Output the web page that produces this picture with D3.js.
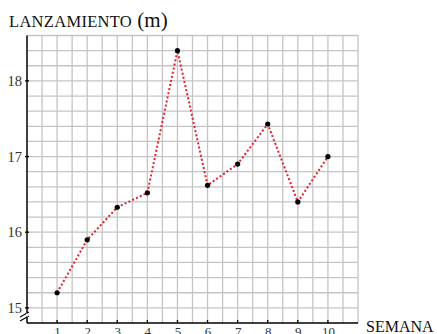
<!DOCTYPE html>
<html>
<head>
<meta charset="utf-8">
<script src="https://cdn.jsdelivr.net/npm/d3@7"></script>
<style>
  body { margin: 0; background: #fff; }
  svg { display: block; }
</style>
</head>
<body>
<div id="chart"></div>
<script>
var weeks = [1, 2, 3, 4, 5, 6, 7, 8, 9, 10];
var throws = [15.2, 15.9, 16.33, 16.52, 18.4, 16.62, 16.9, 17.43, 16.4, 17.0];
var yTicks = [15, 16, 17, 18];

var width = 437, height = 334;
var fontFamily = '"Liberation Serif", "DejaVu Serif", serif';

var svg = d3.select("#chart").append("svg")
    .attr("width", width)
    .attr("height", height);

var x = d3.scaleLinear().domain([0, 11]).range([27, 358]);
var y = d3.scaleLinear().domain([14.8, 18.6]).range([323, 35.5]);

// grid: half week by 0.2 m
var g = svg.append("g");
g.selectAll(".vgrid").data(d3.range(1, 23).map(function(i) { return i * 0.5; }))
  .enter().append("line").attr("class", "vgrid")
  .attr("x1", function(d) { return x(d); })
  .attr("x2", function(d) { return x(d); })
  .attr("y1", y(18.6))
  .attr("y2", y(14.8))
  .attr("stroke", "#c4c4c4")
  .attr("stroke-width", 1.3);
g.selectAll(".hgrid").data(d3.range(1, 20).map(function(i) { return 14.8 + i * 0.2; }))
  .enter().append("line").attr("class", "hgrid")
  .attr("x1", x(0))
  .attr("x2", x(11))
  .attr("y1", function(d) { return y(d); })
  .attr("y2", function(d) { return y(d); })
  .attr("stroke", "#c4c4c4")
  .attr("stroke-width", 1.3);

// axes
var xAxis = d3.axisBottom(x).tickValues(weeks).tickSize(0).tickPadding(4).tickFormat(d3.format("d"));
var yAxis = d3.axisLeft(y).tickValues(yTicks).tickSize(0).tickPadding(4).tickFormat(d3.format("d"));

var gx = svg.append("g").attr("transform", "translate(0," + y(14.8) + ")").call(xAxis);
gx.select(".domain").remove();
gx.selectAll("text").attr("font-family", fontFamily).attr("font-size", 13).attr("fill", "#333");

var gy = svg.append("g").attr("transform", "translate(" + (x(0) - 1) + ",0)").call(yAxis);
gy.select(".domain").remove();
gy.selectAll("text").attr("font-family", fontFamily).attr("font-size", 14.5).attr("fill", "#333");

// small tick marks
svg.selectAll(".xtick").data(weeks).enter().append("line")
  .attr("x1", function(d) { return x(d); })
  .attr("x2", function(d) { return x(d); })
  .attr("y1", y(14.8) - 3).attr("y2", y(14.8))
  .attr("stroke", "#000").attr("stroke-width", 1.3);
svg.selectAll(".ytick").data(yTicks).enter().append("line")
  .attr("x1", x(0) - 2).attr("x2", x(0) + 2)
  .attr("y1", function(d) { return y(d); })
  .attr("y2", function(d) { return y(d); })
  .attr("stroke", "#000").attr("stroke-width", 1.3);

// axis lines
svg.append("line")
  .attr("x1", x(0)).attr("x2", x(0))
  .attr("y1", y(18.6)).attr("y2", y(14.8))
  .attr("stroke", "#000").attr("stroke-width", 1.5);
svg.append("line")
  .attr("x1", x(0)).attr("x2", x(11))
  .attr("y1", y(14.8)).attr("y2", y(14.8))
  .attr("stroke", "#000").attr("stroke-width", 1.5);

// axis break
var bx = x(0), by = y(14.8) - 10;
[0, 4].forEach(function(o) {
  svg.append("line")
    .attr("x1", bx - 7).attr("y1", by + 4 + o)
    .attr("x2", bx + 2).attr("y2", by - 1 + o)
    .attr("stroke", "#000").attr("stroke-width", 1.1);
});
svg.append("rect")
  .attr("x", bx - 1).attr("y", by + 0.5).attr("width", 2).attr("height", 3)
  .attr("fill", "#fff");

// line
var line = d3.line()
  .x(function(d, i) { return x(weeks[i]); })
  .y(function(d) { return y(d); });
svg.append("path")
  .datum(throws)
  .attr("d", line)
  .attr("fill", "none")
  .attr("stroke", "#e8202a")
  .attr("stroke-width", 2)
  .attr("stroke-dasharray", "2,2.2");

svg.selectAll(".pt").data(throws).enter().append("circle")
  .attr("cx", function(d, i) { return x(weeks[i]); })
  .attr("cy", function(d) { return y(d); })
  .attr("r", 2.6)
  .attr("fill", "#000");

// titles
var t = svg.append("text")
  .attr("x", 9).attr("y", 27)
  .attr("font-family", fontFamily)
  .attr("fill", "#111");
t.append("tspan").attr("font-size", 16.5).attr("letter-spacing", 0.3).text("LANZAMIENTO");
t.append("tspan").attr("font-size", 21).text(" (m)");

svg.append("text")
  .attr("x", 366).attr("y", 332)
  .attr("font-family", fontFamily)
  .attr("font-size", 16)
  .attr("fill", "#111")
  .text("SEMANA");
</script>
</body>
</html>
